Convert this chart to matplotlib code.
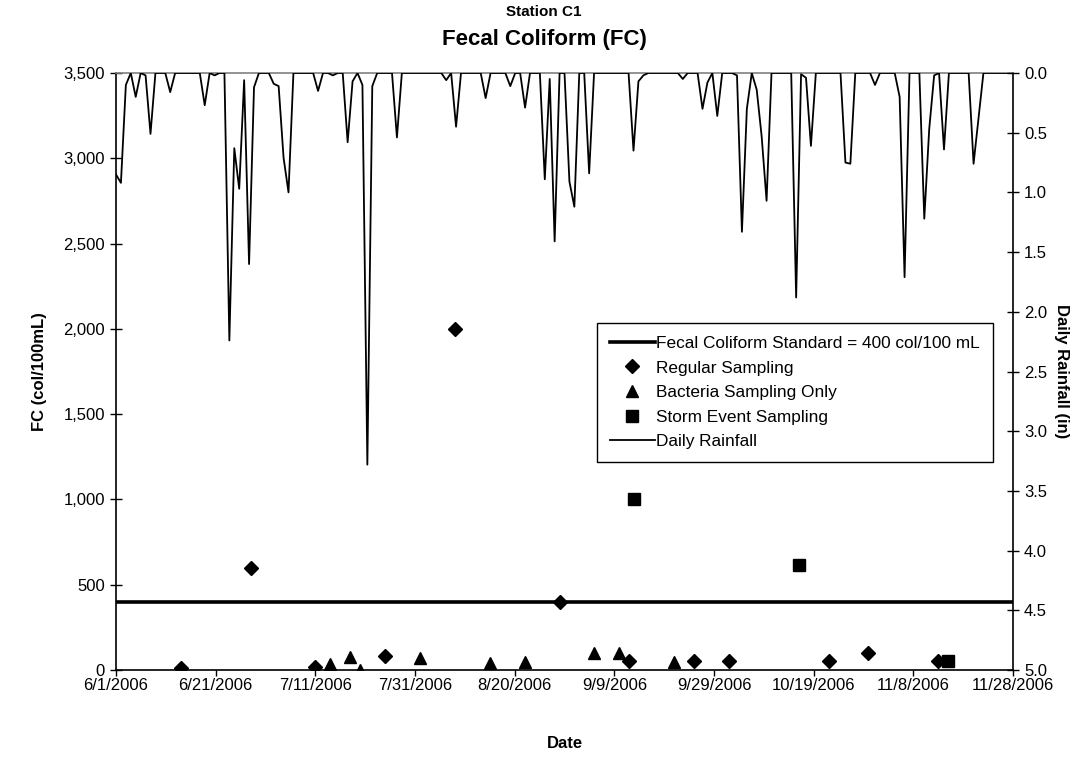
import matplotlib
matplotlib.use("Agg")
import matplotlib.pyplot as plt
import numpy as np
import pandas as pd
from matplotlib.ticker import FuncFormatter, FixedLocator

plt.rcParams['font.family'] = ['Liberation Sans', 'DejaVu Sans']

# ---------------- data ----------------
station = "Station C1"
title = "Fecal Coliform (FC)"

regular_dates = ["2006-06-14", "2006-06-28", "2006-07-11", "2006-07-25", "2006-08-08",
                 "2006-08-29", "2006-09-12", "2006-09-25", "2006-10-02", "2006-10-22",
                 "2006-10-30", "2006-11-13"]
regular_fc = [10, 600, 20, 80, 2000, 400, 50, 50, 50, 50, 100, 50]

bacteria_dates = ["2006-07-14", "2006-07-18", "2006-07-20", "2006-08-01", "2006-08-15",
                  "2006-08-22", "2006-09-05", "2006-09-10", "2006-09-21"]
bacteria_fc = [35, 75, 2, 70, 40, 45, 100, 100, 45]

storm_dates = ["2006-09-13", "2006-10-16", "2006-11-15"]
storm_fc = [1000, 615, 50]

fc_standard = 400

rain_start = "2006-06-01"
rain_in = [
    0.85, 0.92, 0.10, 0, 0.20, 0, 0.02, 0.51, 0, 0,
    0, 0.16, 0, 0, 0, 0, 0, 0, 0.27, 0,
    0.02, 0, 0, 2.24, 0.63, 0.97, 0.06, 1.60, 0.12, 0,
    0, 0, 0.09, 0.11, 0.71, 1.00, 0, 0, 0, 0,
    0, 0.15, 0, 0, 0.02, 0, 0, 0.58, 0.07, 0,
    0.10, 3.28, 0.11, 0, 0, 0, 0, 0.54, 0, 0,
    0, 0, 0, 0, 0, 0, 0, 0.06, 0, 0.45,
    0, 0, 0, 0, 0, 0.21, 0, 0, 0, 0,
    0.11, 0, 0, 0.29, 0, 0, 0, 0.89, 0.05, 1.41,
    0, 0, 0.91, 1.12, 0, 0, 0.84, 0, 0, 0,
    0, 0, 0, 0, 0, 0.65, 0.07, 0.02, 0, 0,
    0, 0, 0, 0, 0, 0.05, 0, 0, 0, 0.30,
    0.08, 0, 0.36, 0, 0, 0, 0.02, 1.33, 0.30, 0,
    0.14, 0.53, 1.07, 0, 0, 0, 0, 0, 1.88, 0.01,
    0.04, 0.61, 0, 0, 0, 0, 0, 0, 0.75, 0.76,
    0, 0, 0, 0, 0.10, 0, 0, 0, 0, 0.20,
    1.71, 0, 0, 0, 1.22, 0.47, 0.02, 0, 0.64, 0,
    0, 0, 0, 0, 0.76, 0.38, 0, 0, 0, 0,
    0, 0, 0,
]

x_ticks = ["2006-06-01", "2006-06-21", "2006-07-11", "2006-07-31", "2006-08-20",
           "2006-09-09", "2006-09-29", "2006-10-19", "2006-11-08", "2006-11-28"]
fc_ticks = [0, 500, 1000, 1500, 2000, 2500, 3000, 3500]
rain_ticks = [0.0, 0.5, 1.0, 1.5, 2.0, 2.5, 3.0, 3.5, 4.0, 4.5, 5.0]

labels = ["Fecal Coliform Standard = 400 col/100 mL", "Regular Sampling",
          "Bacteria Sampling Only", "Storm Event Sampling", "Daily Rainfall"]

# ---------------- figure ----------------
fig = plt.figure(figsize=(10.88, 7.59), dpi=100)
rect = [116 / 1088, 1 - 670 / 759, (1013 - 116) / 1088, (670 - 73) / 759]
ax = fig.add_axes(rect)

xt = pd.to_datetime(x_ticks)
ax.set_xlim(xt[0], xt[-1])
ax.set_ylim(0, 3500)

std_line = ax.axhline(fc_standard, color='black', lw=2.6, zorder=2)
reg, = ax.plot(pd.to_datetime(regular_dates), regular_fc, linestyle='none', marker='D',
               ms=7.5, color='black', zorder=3)
bac, = ax.plot(pd.to_datetime(bacteria_dates), bacteria_fc, linestyle='none', marker='^',
               ms=9, color='black', zorder=3)
sto, = ax.plot(pd.to_datetime(storm_dates), storm_fc, linestyle='none', marker='s',
               ms=8, color='black', zorder=3)

ax.xaxis.set_major_locator(FixedLocator(matplotlib.dates.date2num(xt)))
ax.set_xticklabels([f"{d.month}/{d.day}/{d.year}" for d in xt])
ax.yaxis.set_major_locator(FixedLocator(fc_ticks))
ax.yaxis.set_major_formatter(FuncFormatter(lambda v, p: f"{int(v):,}"))
ax.tick_params(axis='both', labelsize=12, direction='inout', length=9, width=1)
ax.tick_params(axis='x', direction='out', length=4, pad=2)
for s in ['left', 'right', 'bottom']:
    ax.spines[s].set_color('black')
    ax.spines[s].set_linewidth(1.2)
ax.spines['top'].set_color('#808080')
ax.spines['top'].set_linewidth(1.2)

ax.set_ylabel("FC (col/100mL)", fontsize=12, fontweight='bold', labelpad=12)
ax.set_xlabel("Date", fontsize=12, fontweight='bold', labelpad=31)

# rainfall on its own (category-like) axis
ax2 = fig.add_axes(rect, frame_on=False)
ax2.patch.set_visible(False)
rain_idx = np.arange(len(rain_in))
rain_line, = ax2.plot(rain_idx, rain_in, color='black', lw=1.3, zorder=2)
ax2.set_xlim(0, len(rain_in) - 1)
ax2.set_ylim(5, 0)
ax2.xaxis.set_visible(False)
ax2.yaxis.tick_right()
ax2.yaxis.set_label_position('right')
ax2.yaxis.set_major_locator(FixedLocator(rain_ticks))
ax2.yaxis.set_major_formatter(FuncFormatter(lambda v, p: f"{v:.1f}"))
ax2.tick_params(axis='y', labelsize=12, direction='inout', length=9, width=1)
ax2.set_ylabel("Daily Rainfall (in)", fontsize=12, fontweight='bold', rotation=270,
               labelpad=16)

handles = [std_line, reg, bac, sto, rain_line]
leg = ax2.legend(handles, labels, loc='upper left',
                 bbox_to_anchor=(597 / 1088, 1 - 323 / 759), bbox_transform=fig.transFigure,
                 fontsize=12.4, frameon=True, fancybox=False, framealpha=1,
                 edgecolor='black', borderpad=0.75, labelspacing=0.55,
                 handlelength=2.6, handletextpad=0.1, borderaxespad=0)
leg.get_frame().set_linewidth(1.0)

fig.text(0.5, 1 - 12 / 759, station, ha='center', va='center', fontsize=11,
         fontweight='bold')
fig.text(0.5, 1 - 39 / 759, title, ha='center', va='center', fontsize=16,
         fontweight='bold')

fig.savefig("out.png", dpi=100)
